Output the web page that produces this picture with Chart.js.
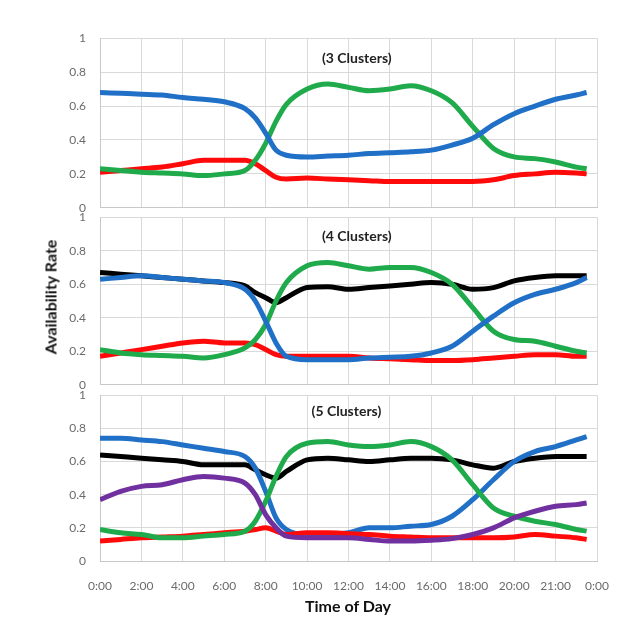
<!DOCTYPE html>
<html>
<head>
<meta charset="utf-8">
<script src="https://cdn.jsdelivr.net/npm/chart.js@4.4.1/dist/chart.umd.min.js"></script>
<style>
  body { margin: 0; background: #fff; width: 620px; height: 619px; position: relative; overflow: hidden; font-family: Lato, sans-serif; }
  .panel { position: absolute; left: 0; width: 620px; }
  #yTitle { position: absolute; left: 50px; top: 297px; transform: translate(-50%, -50%) rotate(-90deg); font-weight: bold; font-size: 16px; color: #111; white-space: nowrap; }
  #xTitle { position: absolute; left: 348px; top: 605px; transform: translate(-50%, -50%); font-weight: bold; font-size: 16px; color: #111; white-space: nowrap; }
</style>
</head>
<body>
<div class="panel" style="top:17px;height:212px"><canvas id="chart3"></canvas></div>
<div class="panel" style="top:196px;height:210px"><canvas id="chart4"></canvas></div>
<div class="panel" style="top:374px;height:222px"><canvas id="chart5"></canvas></div>
<div id="yTitle">Availability Rate</div>
<div id="xTitle">Time of Day</div>
<script>
// hours of day for each sample
const hours = [0, 1, 2, 3, 4, 5, 6, 7, 7.5, 8, 8.5, 9, 10, 11, 12, 13, 14, 15, 16, 17, 18, 19, 20, 21, 22, 23, 23.5];
const tickLabels = ['0:00', '2:00', '4:00', '6:00', '8:00', '10:00', '12:00', '14:00', '16:00', '18:00', '20:00', '21:00', '0:00'];

// 3 clusters
const c3Blue  = [.68, .675, .67, .665, .65, .64, .625, .585, .53, .44, .34, .31, .30, .305, .31, .32, .325, .33, .34, .37, .41, .49, .555, .60, .64, .665, .68];
const c3Green = [.23, .22, .21, .205, .20, .19, .20, .22, .28, .38, .51, .61, .70, .73, .71, .69, .70, .72, .69, .62, .48, .35, .30, .29, .27, .24, .23];
const c3Red   = [.21, .22, .23, .24, .26, .28, .28, .28, .26, .22, .18, .17, .175, .17, .165, .16, .155, .155, .155, .155, .155, .165, .19, .20, .21, .205, .20];

// 4 clusters
const c4Blue  = [.63, .64, .65, .64, .63, .62, .61, .57, .50, .38, .25, .17, .15, .15, .15, .16, .165, .17, .19, .23, .32, .41, .49, .54, .57, .61, .64];
const c4Green = [.21, .19, .18, .175, .17, .16, .18, .22, .27, .36, .50, .61, .71, .73, .71, .69, .70, .70, .67, .60, .46, .32, .27, .26, .23, .20, .19];
const c4Red   = [.17, .19, .21, .23, .25, .26, .25, .25, .24, .21, .18, .17, .17, .17, .17, .16, .155, .15, .145, .145, .15, .16, .17, .18, .18, .17, .17];
const c4Black = [.67, .66, .65, .64, .63, .62, .61, .59, .55, .52, .49, .52, .58, .585, .57, .58, .59, .60, .61, .60, .57, .58, .62, .64, .65, .65, .65];

// 5 clusters
const c5Blue   = [.74, .74, .73, .72, .70, .68, .66, .63, .56, .42, .26, .19, .16, .16, .17, .20, .20, .21, .22, .27, .37, .49, .60, .66, .69, .73, .75];
const c5Green  = [.19, .17, .16, .14, .14, .15, .16, .18, .24, .36, .51, .63, .71, .72, .70, .69, .70, .72, .69, .61, .46, .32, .27, .24, .22, .19, .18];
const c5Red    = [.12, .13, .14, .145, .15, .16, .17, .18, .19, .20, .18, .16, .17, .17, .165, .16, .15, .145, .14, .14, .14, .14, .145, .16, .15, .14, .13];
const c5Black  = [.64, .63, .62, .61, .60, .58, .58, .58, .55, .52, .50, .54, .61, .62, .61, .60, .61, .62, .62, .61, .58, .56, .60, .62, .63, .63, .63];
const c5Purple = [.37, .42, .45, .46, .49, .51, .50, .47, .40, .28, .20, .15, .14, .14, .14, .13, .12, .12, .125, .135, .16, .20, .26, .30, .33, .34, .35];

const BLUE = '#1f70c6', GREEN = '#1faa4b', RED = '#ff0a0a', BLACK = '#000000', PURPLE = '#7030a0';

function series(values, color) {
  return {
    data: values.map((v, i) => ({ x: hours[i], y: v })),
    borderColor: color,
    borderWidth: 5,
    pointRadius: 0,
    tension: 0.4,
    cubicInterpolationMode: 'monotone',
    fill: false
  };
}

// draws the "(n Clusters)" label inside the plot area
const panelLabel = {
  id: 'panelLabel',
  afterDraw(chart, args, opts) {
    const ctx = chart.ctx;
    ctx.save();
    ctx.font = 'bold 14px Lato, sans-serif';
    ctx.fillStyle = '#222';
    ctx.textAlign = 'center';
    ctx.textBaseline = 'middle';
    ctx.fillText(opts.text, chart.scales.x.getPixelForValue(opts.at), chart.chartArea.top + opts.dy);
    ctx.restore();
  }
};

function makePanel(id, datasets, label, at, dy, showX) {
  new Chart(document.getElementById(id), {
    type: 'line',
    data: { datasets },
    plugins: [panelLabel],
    options: {
      responsive: true,
      maintainAspectRatio: false,
      animation: false,
      layout: { padding: { top: 10, bottom: showX ? 0 : 10, left: 0, right: 23 } },
      plugins: {
        legend: { display: false },
        tooltip: { enabled: false },
        panelLabel: { text: label, at: at, dy: dy }
      },
      scales: {
        x: {
          type: 'linear',
          min: 0,
          max: 24,
          afterBuildTicks: s => { s.ticks = tickLabels.map((t, i) => ({ value: i * 2 })); },
          afterFit: s => {
            s.height = showX ? 35 : 0;
            s.paddingLeft = 0;
            s.paddingRight = 0;
          },
          grid: { color: '#d9d9d9', drawTicks: false },
          border: { color: '#c8c8c8' },
          ticks: {
            display: showX,
            padding: 18,
            maxRotation: 0,
            autoSkip: false,
            color: '#6b6b6b',
            font: { family: 'Lato', size: 12 },
            callback: (v, i) => tickLabels[i]
          }
        },
        y: {
          min: 0,
          max: 1,
          afterFit: s => { s.width = 100; },
          grid: { color: '#d9d9d9', drawTicks: false },
          border: { color: '#c8c8c8' },
          ticks: {
            stepSize: 0.2,
            padding: 14,
            color: '#6b6b6b',
            font: { family: 'Lato', size: 12 },
            callback: v => String(Number(v.toFixed(1)))
          }
        }
      }
    }
  });
}

makePanel('chart3', [series(c3Blue, BLUE), series(c3Green, GREEN), series(c3Red, RED)], '(3 Clusters)', 12.4, 20, false);
makePanel('chart4', [series(c4Blue, BLUE), series(c4Green, GREEN), series(c4Red, RED), series(c4Black, BLACK)], '(4 Clusters)', 12.4, 19, false);
makePanel('chart5', [series(c5Purple, PURPLE), series(c5Green, GREEN), series(c5Red, RED), series(c5Blue, BLUE), series(c5Black, BLACK)], '(5 Clusters)', 11.9, 16, true);
</script>
</body>
</html>
